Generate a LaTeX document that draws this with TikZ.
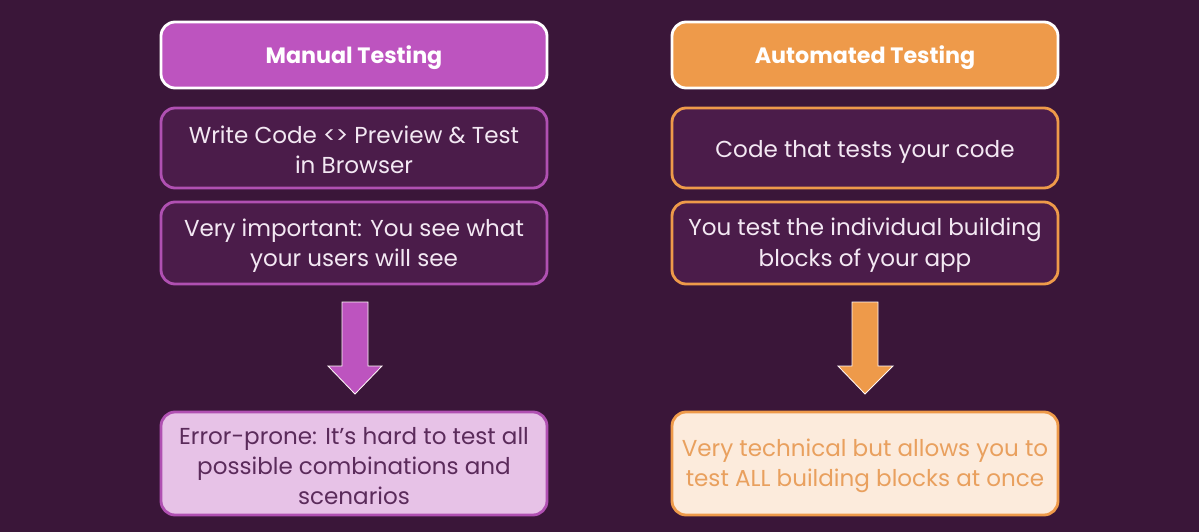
\documentclass[tikz,border=0pt]{standalone}
\usepackage{fontspec}
\setmainfont{Poppins}
\definecolor{bg}{HTML}{3A1639}
\definecolor{cardfill}{HTML}{4B1C4A}
\definecolor{mauve}{HTML}{BD54BF}
\definecolor{mauveline}{HTML}{B050B2}
\definecolor{amber}{HTML}{EE9A4A}
\definecolor{pinkpale}{HTML}{E7C2E7}
\definecolor{peachpale}{HTML}{FCEBDC}
\definecolor{plumtext}{HTML}{5B2B5B}
\definecolor{ambertext}{HTML}{E9A05E}
\definecolor{softwhite}{HTML}{F3E8F3}
\tikzset{
  x=0.025cm, y=-0.025cm,
  card/.style={rectangle, rounded corners=10, minimum width=386*0.025cm,
    line width=2pt, inner sep=0pt},
  cardtext/.style={align=center, inner sep=0pt,
    font=\fontsize{16.4}{21.4}\selectfont},
  headtext/.style={cardtext, text=white,
    font=\fontsize{15.8}{21}\selectfont\bfseries},
  headcard/.style={card, draw=white},
  midcard/.style={card, fill=cardfill},
  blockarrow/.style={draw=white!90!pink, line width=0.6pt, line join=miter},
}
\begin{document}
\begin{tikzpicture}
\fill[bg] (0,0) rectangle (1199,532);
\useasboundingbox (0,0) rectangle (1199,532);

% Manual testing column
\node[headcard, fill=mauve, minimum height=66*0.025cm] (mh) at (354,55) {};
\node[headtext] (mht) at ([yshift=-2.2pt]mh.center) {Manual Testing};
\node[midcard, draw=mauveline, minimum height=80*0.025cm] (m1) at (354,148) {};
\node[cardtext, text=softwhite] (m1t) at ([yshift=-1.6pt]m1.center)
  {Write Code <> Preview \& Test\\in Browser};
\node[midcard, draw=mauveline, minimum height=82*0.025cm] (m2) at (354,243) {};
\node[cardtext, text=softwhite] (m2t) at ([yshift=-1.6pt]m2.center)
  {Very important: You see what\\your users will see};
\node[card, fill=pinkpale, draw=mauveline, minimum height=103*0.025cm] (m3) at (354,463.5) {};
\node[cardtext, text=plumtext] (m3t) at ([yshift=-1.6pt]m3.center)
  {Error-prone: It’s hard to test all\\possible combinations and\\scenarios};

% Automated testing column
\node[headcard, fill=amber, minimum height=66*0.025cm] (ah) at (865,55) {};
\node[headtext] (aht) at ([yshift=-2.2pt]ah.center) {Automated Testing};
\node[midcard, draw=amber, minimum height=80*0.025cm] (a1) at (865,148) {};
\node[cardtext, text=softwhite] (a1t) at ([yshift=-2.6pt]a1.center)
  {Code that tests your code};
\node[midcard, draw=amber, minimum height=82*0.025cm] (a2) at (865,243) {};
\node[cardtext, text=softwhite] (a2t) at ([yshift=-1.6pt]a2.center)
  {You test the individual building\\blocks of your app};
\node[card, fill=peachpale, draw=amber, minimum height=103*0.025cm] (a3) at (865,463.5) {};
\node[cardtext, text=ambertext] (a3t) at ([yshift=-1.6pt]a3.center)
  {Very technical but allows you to\\test ALL building blocks at once};

% Block arrows leading down to the outcome cards
\filldraw[blockarrow, fill=mauve]
  (342,302) -- (368,302) -- (368,366) -- (382,366) -- (355,394)
  -- (328,366) -- (342,366) -- cycle;
\filldraw[blockarrow, fill=amber]
  (852,302) -- (878,302) -- (878,366) -- (893,366) -- (865,394)
  -- (838,366) -- (852,366) -- cycle;
\end{tikzpicture}
\end{document}
